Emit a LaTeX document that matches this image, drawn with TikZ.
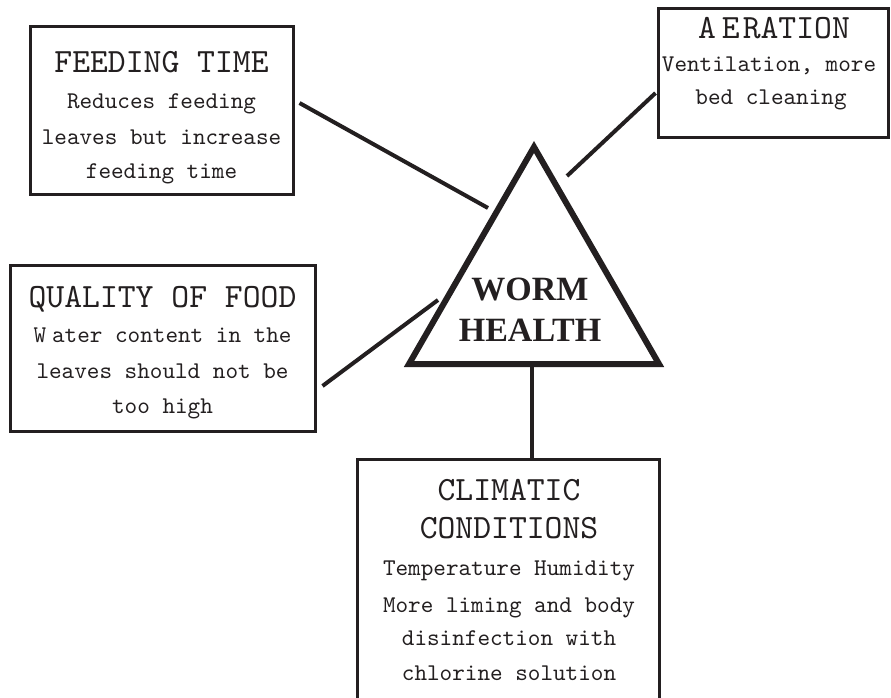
\documentclass[tikz,border=0pt]{standalone}
\usepackage{fontspec}
\newfontfamily\headfont{lmmono10-regular.otf}
\newfontfamily\bodyfont{lmmono10-regular.otf}
\newfontfamily\hubfont{Liberation Serif}
\definecolor{ink}{RGB}{35,31,32}

\begin{document}
\begin{tikzpicture}[x=1pt,y=-1pt,
  box/.style={draw=ink, line width=3pt, inner sep=0pt},
  headtxt/.style={font=\headfont\fontsize{34}{34}\selectfont, text=ink, anchor=base, inner sep=0pt},
  bodytxt/.style={font=\bodyfont\fontsize{24}{24}\selectfont, text=ink, anchor=base, inner sep=0pt},
  hubtxt/.style={font=\hubfont\bfseries\fontsize{34}{34}\selectfont, text=ink, anchor=base, inner sep=0pt},
  link/.style={draw=ink, line width=4pt},
  tri/.style={draw=ink, line width=6pt, line join=miter}]

\clip (0,0) rectangle (891,698);
\fill[white] (0,0) rectangle (891,698);

% central triangle
\coordinate (apex) at (534,147);
\coordinate (bl) at (409,364);
\coordinate (br) at (659,364);
\draw[tri] (apex) -- (bl) -- (br) -- cycle;
\node[hubtxt] (hub1) at (530,300) {WORM};
\node[hubtxt] (hub2) at (530,341) {HEALTH};

% feeding time
\node[box, minimum width=263pt, minimum height=167pt] (feed) at (161.5,110.5) {};
\node[headtxt] (feedT) at (161.5,73) {FEEDING TIME};
\node[bodytxt] (feed1) at (161.5,109) {Reduces feeding};
\node[bodytxt] (feed2) at (161.5,144) {leaves but increase};
\node[bodytxt] (feed3) at (161.5,178) {feeding time};

% aeration
\node[box, minimum width=230pt, minimum height=129pt] (aer) at (773,73.5) {};
\node[headtxt] (aerT) at (774,39) {A\kern6pt E\kern3pt RATION};
\node[bodytxt] (aer1) at (769,72) {Ventilation, more};
\node[bodytxt] (aer2) at (771,105) {bed cleaning};

% quality of food
\node[box, minimum width=305pt, minimum height=166pt] (qual) at (162.5,348) {};
\node[headtxt] (qualT) at (162.5,307) {QUALITY OF FOOD};
\node[bodytxt] (qual1) at (162.5,342) {W\kern6pt ater content in the};
\node[bodytxt] (qual2) at (162.5,378) {leaves should not be};
\node[bodytxt] (qual3) at (162.5,413) {too high};

% climatic conditions
\node[box, minimum width=302pt, minimum height=271pt] (clim) at (508,594.5) {};
\node[headtxt] (climT1) at (509,500) {CLIMATIC};
\node[headtxt] (climT2) at (509,538) {CONDITIONS};
\node[bodytxt] (clim1) at (509,575) {Temperature Humidity};
\node[bodytxt] (clim2) at (509,612) {More liming and body};
\node[bodytxt] (clim3) at (509,645) {disinfection with};
\node[bodytxt] (clim4) at (509,680) {chlorine solution};

% connectors
\coordinate (feedTip) at (488,208);
\coordinate (aerTip) at (567,176);
\coordinate (qualTip) at (438,300);
\coordinate (stem) at (532,366);
\draw[link] (feed.east) ++(5,-7.5) -- (feedTip);
\draw[link] (aer.west) ++(-1,19.5) -- (aerTip);
\draw[link] (qual.east) ++(6,38) -- (qualTip);
\draw[link] (stem) -- (stem |- clim.north);
\end{tikzpicture}
\end{document}
